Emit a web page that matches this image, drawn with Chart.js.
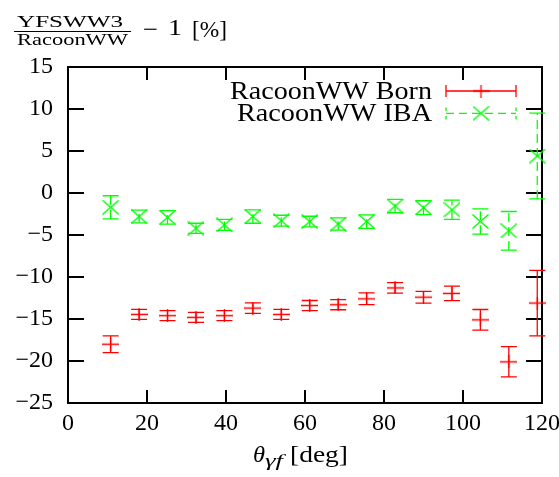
<!DOCTYPE html>
<html><head><meta charset="utf-8">
<script src="https://cdn.jsdelivr.net/npm/chart.js@4.4.0/dist/chart.umd.min.js"></script>
<style>html,body{margin:0;padding:0;background:#fff;}#wrap{width:559px;height:477px;}</style>
</head><body><div id="wrap"><canvas id="c" width="559" height="477"></canvas></div>
<script>
// ---- data ----
const angles = [10.8, 18, 25.2, 32.4, 39.6, 46.8, 54, 61.2, 68.4, 75.6, 82.8, 90, 97.2, 104.4, 111.6, 118.8];
const bornValues = [-18.0, -14.45, -14.6, -14.8, -14.6, -13.7, -14.45, -13.4, -13.3, -12.6, -11.3, -12.4, -11.95, -15.1, -20.1, -13.1];
const bornErrors = [1.0, 0.6, 0.6, 0.6, 0.6, 0.63, 0.6, 0.6, 0.6, 0.7, 0.63, 0.7, 0.87, 1.23, 1.8, 3.9];
const ibaValues = [-1.7, -2.8, -2.9, -4.2, -3.8, -2.8, -3.3, -3.4, -3.7, -3.4, -1.55, -1.75, -2.0, -3.4, -4.5, 4.4];
const ibaErrors = [1.37, 0.75, 0.8, 0.6, 0.65, 0.8, 0.65, 0.63, 0.73, 0.8, 0.8, 0.83, 1.15, 1.5, 2.3, 5.1];
const xTickValues = [0, 20, 40, 60, 80, 100, 120];
const yTickValues = [-25, -20, -15, -10, -5, 0, 5, 10, 15];
const seriesNames = ['RacoonWW Born', 'RacoonWW IBA'];
const RED = '#ff0000', GREEN = '#00ff00';
const SERIF = '"Liberation Serif", "Times New Roman", serif';

function makePlus(color, w, h) {
  const c = document.createElement('canvas'); c.width = w; c.height = h;
  const g = c.getContext('2d'); g.strokeStyle = color; g.lineWidth = 1.3;
  g.beginPath(); g.moveTo(0, h / 2); g.lineTo(w, h / 2); g.moveTo(w / 2, 0); g.lineTo(w / 2, h); g.stroke();
  return c;
}
function makeX(color, w, h) {
  const c = document.createElement('canvas'); c.width = w; c.height = h;
  const g = c.getContext('2d'); g.strokeStyle = color; g.lineWidth = 1.4;
  g.beginPath(); g.moveTo(0.5, 0.5); g.lineTo(w - 0.5, h - 0.5); g.moveTo(w - 0.5, 0.5); g.lineTo(0.5, h - 0.5); g.stroke();
  return c;
}
const plusImg = makePlus(RED, 17, 13);
const xImg = makeX(GREEN, 17, 15);

function fitText(ctx, str, x, y, font, width, align) {
  ctx.font = font;
  const w = ctx.measureText(str).width;
  const sx = width ? width / w : 1;
  ctx.save(); ctx.translate(x, y); ctx.scale(sx, 1); ctx.textAlign = 'left'; ctx.textBaseline = 'alphabetic';
  ctx.fillText(str, align === 'right' ? -w : (align === 'center' ? -w / 2 : 0), 0);
  ctx.restore();
}

const errorBars = [
  { values: bornValues, errors: bornErrors, color: RED, dash: [] },
  { values: ibaValues, errors: ibaErrors, color: GREEN, dash: [9, 5] }
];

const framePlugin = {
  id: 'frameAndErrors',
  beforeDatasetsDraw(chart) {
    const { ctx, chartArea: a, scales: { x, y } } = chart;
    ctx.save();
    ctx.strokeStyle = '#000'; ctx.lineWidth = 2;
    ctx.strokeRect(a.left, a.top, a.right - a.left, a.bottom - a.top);
    ctx.beginPath();
    yTickValues.forEach(v => {
      const py = y.getPixelForValue(v);
      ctx.moveTo(a.left, py); ctx.lineTo(a.left + 16, py);
      ctx.moveTo(a.right, py); ctx.lineTo(a.right - 16, py);
    });
    xTickValues.forEach(v => {
      const px = x.getPixelForValue(v);
      ctx.moveTo(px, a.bottom); ctx.lineTo(px, a.bottom - 13);
      ctx.moveTo(px, a.top); ctx.lineTo(px, a.top + 13);
    });
    ctx.stroke();
    // error bars
    errorBars.forEach(s => {
      ctx.strokeStyle = s.color; ctx.lineWidth = 1.3;
      angles.forEach((ang, i) => {
        const px = x.getPixelForValue(ang);
        const yt = y.getPixelForValue(s.values[i] + s.errors[i]);
        const yb = y.getPixelForValue(s.values[i] - s.errors[i]);
        ctx.setLineDash(s.dash);
        ctx.beginPath(); ctx.moveTo(px, yb); ctx.lineTo(px, yt); ctx.stroke();
        ctx.setLineDash([]);
        ctx.beginPath();
        ctx.moveTo(px - 8, yt); ctx.lineTo(px + 8, yt);
        ctx.moveTo(px - 8, yb); ctx.lineTo(px + 8, yb);
        ctx.stroke();
      });
    });
    ctx.restore();
  },
  afterDraw(chart) {
    const { ctx } = chart;
    ctx.save();
    ctx.fillStyle = '#000';
    // y title (fraction)
    fitText(ctx, 'YFSWW3', 17, 27, '16px ' + SERIF, 106, 'left');
    fitText(ctx, 'RacoonWW', 17, 45, '16px ' + SERIF, 111, 'left');
    ctx.strokeStyle = '#000'; ctx.lineWidth = 1;
    ctx.beginPath(); ctx.moveTo(14, 31.5); ctx.lineTo(131, 31.5); ctx.stroke();
    fitText(ctx, '\u2212', 143, 37, '24px ' + SERIF, 15, 'left');
    fitText(ctx, '1', 168, 35, '24px ' + SERIF, 14, 'left');
    fitText(ctx, '[%]', 192, 37, '24px ' + SERIF, 35, 'left');
    // x title
    fitText(ctx, '\u03b8', 253, 461.7, 'italic 24px ' + SERIF, 12, 'left');
    fitText(ctx, '\u03b3f', 265, 466, 'italic 17px ' + SERIF, 18, 'left');
    fitText(ctx, '[deg]', 290, 462, '24px ' + SERIF, 58, 'left');
    // legend
    fitText(ctx, seriesNames[0], 432, 98.7, '25px ' + SERIF, 202, 'right');
    fitText(ctx, seriesNames[1], 432, 121.3, '25px ' + SERIF, 195, 'right');
    ctx.lineWidth = 1.3;
    ctx.strokeStyle = RED;
    ctx.beginPath();
    ctx.moveTo(446, 91); ctx.lineTo(516, 91);
    ctx.moveTo(446, 85); ctx.lineTo(446, 97);
    ctx.moveTo(516, 85); ctx.lineTo(516, 97);
    ctx.stroke();
    ctx.drawImage(plusImg, 481 - 8.5, 91 - 6.5);
    ctx.strokeStyle = GREEN;
    ctx.setLineDash([8, 5]);
    ctx.beginPath(); ctx.moveTo(446, 113.3); ctx.lineTo(516, 113.3); ctx.stroke();
    ctx.setLineDash([]);
    ctx.beginPath();
    ctx.moveTo(446, 107.5); ctx.lineTo(446, 111); ctx.moveTo(446, 116); ctx.lineTo(446, 119.5);
    ctx.moveTo(516, 107.5); ctx.lineTo(516, 111); ctx.moveTo(516, 116); ctx.lineTo(516, 119.5);
    ctx.stroke();
    ctx.drawImage(xImg, 481 - 8.5, 113.3 - 7.5);
    ctx.restore();
  }
};

new Chart(document.getElementById('c'), {
  type: 'scatter',
  data: {
    datasets: [
      { label: seriesNames[0], data: angles.map((a, i) => ({ x: a, y: bornValues[i] })),
        pointStyle: plusImg, borderColor: RED, backgroundColor: RED, showLine: false, clip: false },
      { label: seriesNames[1], data: angles.map((a, i) => ({ x: a, y: ibaValues[i] })),
        pointStyle: xImg, borderColor: GREEN, backgroundColor: GREEN, showLine: false, clip: false }
    ]
  },
  options: {
    responsive: false, animation: false, devicePixelRatio: 1,
    layout: { padding: { top: 67, right: 17, left: 0, bottom: 0 } },
    plugins: { legend: { display: false }, tooltip: { enabled: false } },
    scales: {
      x: {
        type: 'linear', min: 0, max: 120,
        afterBuildTicks: s => { s.ticks = xTickValues.map(v => ({ value: v })); },
        grid: { display: false, drawTicks: false }, border: { display: false },
        ticks: { color: '#000', font: { family: SERIF, size: 24 }, padding: 6, maxRotation: 0, autoSkip: false },
        afterFit: s => { s.height = 74; s.paddingLeft = 0; s.paddingRight = 0; }
      },
      y: {
        type: 'linear', min: -25, max: 15,
        afterBuildTicks: s => { s.ticks = yTickValues.map(v => ({ value: v })); },
        grid: { display: false, drawTicks: false }, border: { display: false },
        ticks: { color: '#000', font: { family: SERIF, size: 24 }, padding: 15, autoSkip: false,
          callback: v => v < 0 ? '\u2212' + Math.abs(v) : String(v) },
        afterFit: s => { s.width = 68; s.paddingTop = 0; s.paddingBottom = 0; }
      }
    }
  },
  plugins: [framePlugin]
});
</script></body></html>
